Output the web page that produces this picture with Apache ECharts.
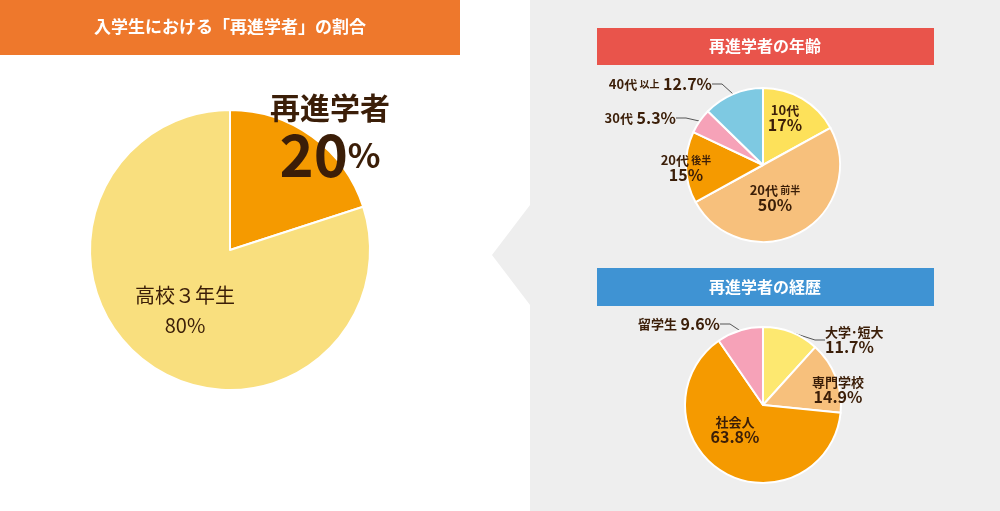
<!DOCTYPE html>
<html><head><meta charset="utf-8">
<script src="https://cdn.jsdelivr.net/npm/echarts@6/dist/echarts.min.js"></script>
<style>html,body{margin:0;padding:0;background:#fff}#c{width:1000px;height:511px}</style>
</head><body><div id="c"></div>
<script>
const mainNames=['再進学者','高校３年生'];
const mainValues=[20,80];
const ageNames=['10代','20代 前半','20代 後半','30代','40代 以上'];
const ageValues=[17,50,15,5.3,12.7];
const careerNames=['大学･短大','専門学校','社会人','留学生'];
const careerValues=[11.7,14.9,63.8,9.6];
const F='"Noto Sans CJK JP","Noto Sans",sans-serif';
const dark='#3b1e08';
const chart=echarts.init(document.getElementById('c'));
function split(n){const p=n.split(' ');return p.length>1?'{a|'+p[0]+'}{s| '+p[1]+'}':'{a|'+n+'}';}
const rich={a:{fontFamily:F,fontSize:13,color:dark,fontWeight:'bold'},s:{fontFamily:F,fontSize:10,color:dark,fontWeight:'bold'},b:{fontFamily:F,fontSize:16,color:dark,fontWeight:'bold'},
 t:{fontFamily:F,fontSize:30,color:dark,fontWeight:'bold'},h:{fontFamily:F,fontSize:58,color:dark,fontWeight:'bold',lineHeight:64},hp:{fontFamily:F,fontSize:34,color:dark,fontWeight:'bold'},
 m:{fontFamily:F,fontSize:20,color:dark,lineHeight:30}};
const ageColors=['#fde15a','#f7c07c','#f59a00','#f6a2b8','#7ec9e2'];
const careerColors=['#fde870','#f7c07c','#f59a00','#f6a2b8'];
const ageLab=[{x:785,y:118,i:1},{x:775,y:198,i:1},{x:686,y:168,i:1},{x:676,y:118,o:1},{x:712,y:84,o:1}];
const carLab=[{x:825,y:340,o:2},{x:838,y:390,i:1},{x:735,y:430,i:1},{x:720,y:324,o:1}];
chart.setOption({
 animation:false,
 graphic:[
  {type:'rect',shape:{x:530,y:0,width:470,height:511},style:{fill:'#eeeeee'}},
  {type:'polygon',shape:{points:[[530,205],[492,255],[530,305]]},style:{fill:'#eeeeee'}},
  {type:'rect',shape:{x:0,y:0,width:460,height:55},style:{fill:'#ee782c'}},
  {type:'text',x:230,y:27,style:{text:'入学生における「再進学者」の割合',fill:'#fff',font:'bold 17px '+F,align:'center',verticalAlign:'middle'}},
  {type:'rect',shape:{x:597,y:28,width:337,height:37},style:{fill:'#e9544b'}},
  {type:'text',x:765,y:46,style:{text:'再進学者の年齢',fill:'#fff',font:'bold 16px '+F,align:'center',verticalAlign:'middle'}},
  {type:'rect',shape:{x:597,y:268,width:337,height:38},style:{fill:'#3f93d3'}},
  {type:'text',x:765,y:287,style:{text:'再進学者の経歴',fill:'#fff',font:'bold 16px '+F,align:'center',verticalAlign:'middle'}}
 ],
 series:[
  {type:'pie',center:[230,250],radius:[0,140],startAngle:90,clockwise:true,silent:true,
   itemStyle:{borderColor:'#fff',borderWidth:2},
   data:mainNames.map((n,i)=>({name:n,value:mainValues[i],itemStyle:{color:['#f59a00','#f9df7e'][i]}})),
   label:{position:'inside',formatter:p=>p.dataIndex===0?'{t|'+p.name+'}\n{h|'+p.value+'}{hp|%}':'{m|'+p.name+'}\n{m|'+p.value+'%}',rich:rich,align:'center'},
   labelLine:{show:false},
   labelLayout:p=>p.dataIndex===0?{x:330,y:140,align:'center',verticalAlign:'middle'}:{x:185,y:310,align:'center',verticalAlign:'middle'}
  },
  {type:'pie',center:[763,165],radius:[0,77],startAngle:90,silent:true,
   itemStyle:{borderColor:'#fff',borderWidth:2},
   data:ageNames.map((n,i)=>({name:n,value:ageValues[i],itemStyle:{color:ageColors[i]},
     label:{position:ageLab[i].o?'outside':'inside'},labelLine:{show:!!ageLab[i].o,length:8,length2:10,lineStyle:{color:'#555',width:1}}})),
   label:{formatter:p=>ageLab[p.dataIndex].o?split(p.name)+'{b| '+p.value+'%}':split(p.name)+'\n{b|'+p.value+'%}',rich:rich,align:'center'},
   labelLayout:p=>{const l=ageLab[p.dataIndex];return l.o?{x:l.x,y:l.y,align:'right',verticalAlign:'middle'}:{x:l.x,y:l.y,align:'center',verticalAlign:'middle'};}
  },
  {type:'pie',center:[763,405],radius:[0,78],startAngle:90,silent:true,
   itemStyle:{borderColor:'#fff',borderWidth:2},
   data:careerNames.map((n,i)=>({name:n,value:careerValues[i],itemStyle:{color:careerColors[i]},
     label:{position:carLab[i].o?'outside':'inside'},labelLine:{show:!!carLab[i].o,length:8,length2:10,lineStyle:{color:'#555',width:1}}})),
   label:{formatter:p=>carLab[p.dataIndex].o===1?split(p.name)+'{b| '+p.value+'%}':split(p.name)+'\n{b|'+p.value+'%}',rich:rich,align:'center'},
   labelLayout:p=>{const l=carLab[p.dataIndex];return l.o===1?{x:l.x,y:l.y,align:'right',verticalAlign:'middle'}:l.o===2?{x:l.x,y:l.y,align:'left',verticalAlign:'middle'}:{x:l.x,y:l.y,align:'center',verticalAlign:'middle'};}
  }
 ]
});
</script></body></html>
